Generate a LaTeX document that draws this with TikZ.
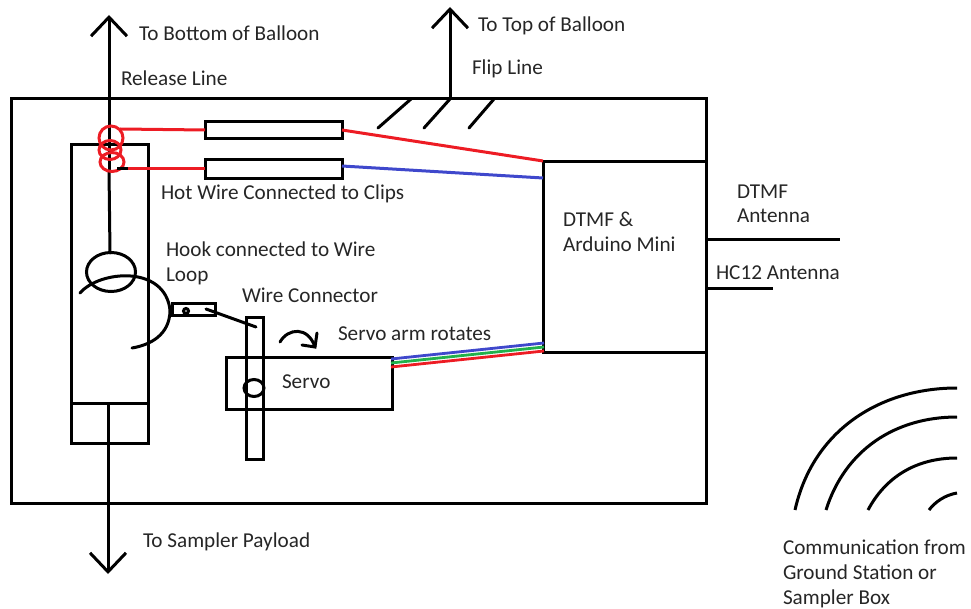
\documentclass[tikz,border=0pt]{standalone}
\usepackage{fontspec}
\setmainfont{Carlito}
\usetikzlibrary{arrows.meta,positioning,calc,shapes.geometric}
\definecolor{wred}{HTML}{ED1C24}
\definecolor{wblue}{HTML}{3F48CC}
\definecolor{wgreen}{HTML}{22B14C}
\definecolor{txt}{HTML}{262626}
\tikzset{
  box/.style={draw=black,line width=3pt,fill=none,inner sep=0pt,outer sep=0pt,rectangle},
  wire/.style={line width=3pt,line cap=round},
  thinwire/.style={line width=3pt},
  arr/.style={line width=3pt,-{Straight Barb[length=19pt,width=36pt,line width=3pt]}},
  lbl/.style={anchor=base west,inner sep=0pt,outer sep=0pt,yshift=-1pt,text=txt,font=\fontsize{21.2}{24}\selectfont},
  ring/.style={draw=wred,line width=3pt,ellipse,fill=none}
}
\newcommand{\boxat}[6]{\node[box,minimum width=#4pt-#2pt,minimum height=#5pt-#3pt,#6] (#1) at ({(#2+#4)/2},{(#3+#5)/2+0.5}) {};}
\begin{document}
\begin{tikzpicture}[x=1pt,y=-1pt]
\useasboundingbox (0,0) rectangle (971,609);
% boxes
\boxat{frame}{11}{98}{706}{503}{}
\boxat{ctrl}{543}{161}{706}{352}{}
\boxat{holder}{71}{144}{148}{443}{}
\boxat{clipa}{205}{121}{342}{138}{}
\boxat{clipb}{205}{159}{342}{178}{}
\boxat{servo}{226}{357}{392}{409}{}
\boxat{arm}{246}{317}{263}{459}{}
\boxat{conn}{172}{303}{215}{315}{}
% holder divider
\coordinate (divL) at (71,403);
\coordinate (divR) at (149,403);
\draw[wire,line cap=butt] (divL) -- (divR);
% arrows
\coordinate (relTop) at (109,15);
\coordinate (relBot) at (110,253);
\coordinate (relJoin) at (109,170);
\draw[arr] (relJoin) -- (relTop);
\draw[wire] (relJoin) -- (relBot);
\coordinate (payFrom) at (108,403);
\coordinate (payTo) at (108,574);
\draw[arr] (payFrom) -- (payTo);
\coordinate (flipFrom) at (450,98);
\coordinate (flipTo) at (450,7);
\draw[arr] (flipFrom) -- (flipTo);
% ticks
\coordinate (t1a) at (378,128); \coordinate (t1b) at (411,99);
\coordinate (t2a) at (424,128); \coordinate (t2b) at (450,99);
\coordinate (t3a) at (469,128); \coordinate (t3b) at (494,99);
\draw[wire] (t1a) -- (t1b);
\draw[wire] (t2a) -- (t2b);
\draw[wire] (t3a) -- (t3b);
% hook
\node[draw,line width=3pt,ellipse,minimum width=49pt,minimum height=39pt,inner sep=0pt,outer sep=0pt] (loop) at (111,272) {};
\coordinate (hookA) at (80,293);
\coordinate (hookB) at (170,310);
\coordinate (hookC) at (132,348);
\draw[wire] (hookA) .. controls (100,270) and (165,265) .. (hookB) .. controls (170,335) and (150,345) .. (hookC);
% wire connector
\node[circle,draw,line width=3pt,minimum size=5pt,inner sep=0pt] (pin) at (186,311) {};
\coordinate (lnkA) at (206,309);
\coordinate (lnkB) at (256,327);
\draw[wire] (lnkA) -- (lnkB);
% servo pivot
\node[draw,line width=3pt,ellipse,minimum width=20pt,minimum height=17pt,inner sep=0pt,outer sep=0pt] (pivot) at (254,388) {};
% rotate arrow
\coordinate (rotA) at (280,342);
\coordinate (rotB) at (315,347);
\coordinate (rotH1) at (317,333);
\coordinate (rotH2) at (302,345);
\draw[wire] (rotA) .. controls (288,328) and (308,326) .. (rotB);
\draw[wire] (rotH1) -- (rotB) -- (rotH2);
% rings
\node[ring,minimum width=24pt,minimum height=24pt,inner sep=0pt,outer sep=0pt] (ra) at (111,138) {};
\node[ring,minimum width=22pt,minimum height=19pt,inner sep=0pt,outer sep=0pt] (rb) at (110,150) {};
\node[ring,minimum width=24pt,minimum height=19pt,inner sep=0pt,outer sep=0pt] (rc) at (112,162) {};
\coordinate (stubA) at (117,169);
\coordinate (stubB) at (128,169);
\draw[thinwire] (stubA) -- (stubB);
% red wires to clips
\coordinate (redA) at (120,129);
\draw[thinwire,wred] (redA) -- (clipa.west);
\draw[thinwire,wred] (stubB) -- (clipb.west);
% wires to controller
\coordinate (ca) at (543,161);
\coordinate (cb) at (543,178);
\coordinate (ce) at (342,130);
\coordinate (cf) at (342,166);
\draw[thinwire,wred] (ce) -- (ca);
\draw[thinwire,wblue] (cf) -- (cb);
% servo leads
\coordinate (sb) at (391,359);\coordinate (sg) at (391,363);\coordinate (sr) at (391,367);
\coordinate (cbb) at (544,343);\coordinate (cgg) at (544,347);\coordinate (crr) at (544,351);
\draw[line width=2.8pt,wblue] (sb) -- (cbb);
\draw[line width=2.8pt,wgreen] (sg) -- (cgg);
\draw[line width=2.8pt,wred] (sr) -- (crr);
% antennas
\coordinate (antA) at (840,240);
\coordinate (antB) at (773,289);
\draw[thinwire] (ctrl.east |- antA) -- (antA);
\draw[thinwire] (ctrl.east |- antB) -- (antB);
% radio arcs
\coordinate (w1) at (795,510); \coordinate (e1) at (957,388);
\coordinate (w2) at (826,510); \coordinate (e2) at (957,417);
\coordinate (w3) at (868,510); \coordinate (e3) at (957,458);
\coordinate (w4) at (929,510); \coordinate (e4) at (957,493);
\draw[wire,line cap=butt] (w1) .. controls (813,430) and (880,388) .. (e1);
\draw[wire,line cap=butt] (w2) .. controls (845,450) and (895,417) .. (e2);
\draw[wire,line cap=butt] (w3) .. controls (885,478) and (915,458) .. (e3);
\draw[wire,line cap=butt] (w4) .. controls (935,502) and (945,495) .. (e4);
% labels
\node[lbl] (l1) at (139,40) {To Bottom of Balloon};
\node[lbl] (l2) at (121,85) {Release Line};
\node[lbl] (l3) at (478,31) {To Top of Balloon};
\node[lbl] (l4) at (472,74) {Flip Line};
\node[lbl] (l5) at (161,199) {Hot Wire Connected to Clips};
\node[lbl] (l6) at (166,256) {Hook connected to Wire};
\node[lbl] (l7) at (166,281) {Loop};
\node[lbl] (l8) at (242,301) {Wire Connector};
\node[lbl] (l9) at (338,340) {Servo arm rotates};
\node[lbl] (l10) at (282,387) {Servo};
\node[lbl] (l11) at (563,226) {DTMF \&};
\node[lbl] (l12) at (563,251) {Arduino Mini};
\node[lbl] (l13) at (737,198) {DTMF};
\node[lbl] (l14) at (737,222) {Antenna};
\node[lbl] (l15) at (716,279) {HC12 Antenna};
\node[lbl] (l16) at (143,546) {To Sampler Payload};
\node[lbl] (l17) at (783,553) {Communication from};
\node[lbl] (l18) at (783,578) {Ground Station or};
\node[lbl] (l19) at (783,603) {Sampler Box};
\end{tikzpicture}
\end{document}
